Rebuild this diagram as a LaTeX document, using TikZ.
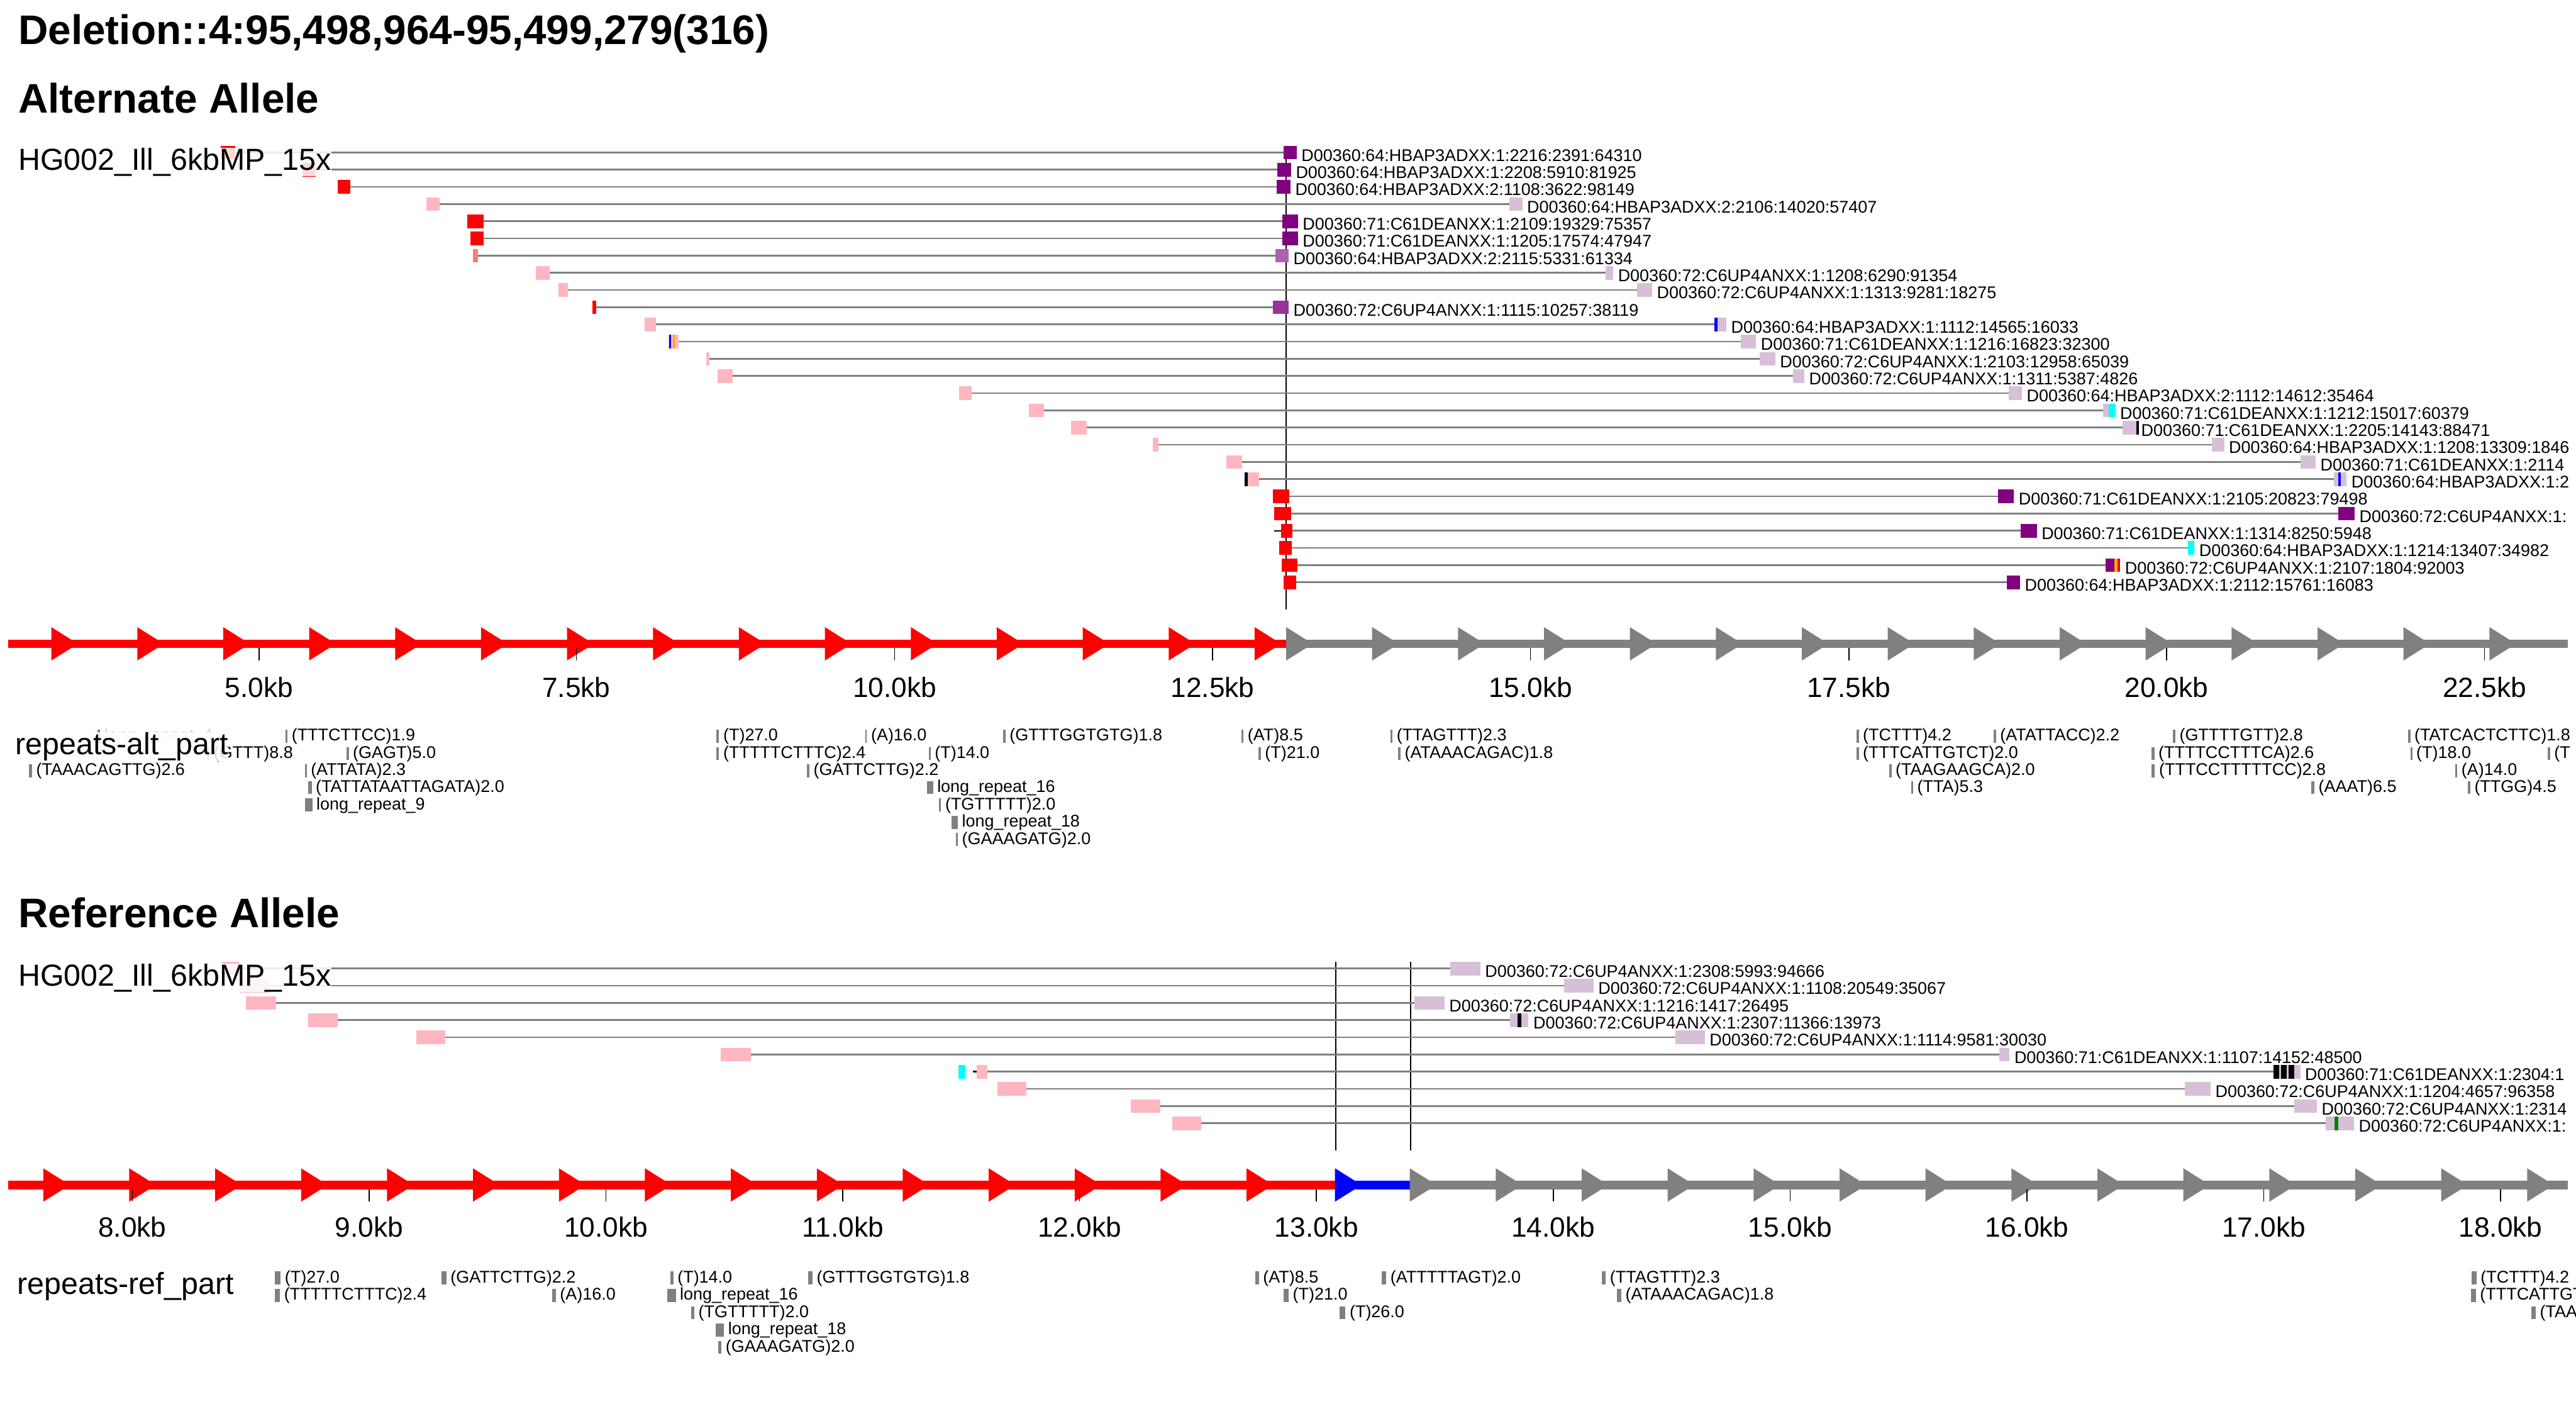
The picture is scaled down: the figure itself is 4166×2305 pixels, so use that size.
\documentclass[tikz,border=0pt]{standalone}
\usepackage{fontspec}
\setmainfont{Liberation Sans}
\definecolor{cRed}{HTML}{FF0000}
\definecolor{cPink}{HTML}{FFB6C1}
\definecolor{cPurple}{HTML}{800080}
\definecolor{cThistle}{HTML}{D8BFD8}
\definecolor{cMed}{HTML}{B060B0}
\definecolor{cMedB}{HTML}{993399}
\definecolor{cCoral}{HTML}{F08080}
\definecolor{cCyan}{HTML}{00FFFF}
\definecolor{cBlue}{HTML}{0000FF}
\definecolor{cOrange}{HTML}{FFA500}
\definecolor{cGreen}{HTML}{008000}
\definecolor{axgray}{HTML}{808080}
\definecolor{lbgray}{HTML}{707070}
\tikzset{
  readline/.style={draw=axgray, line width=0.75pt},
  readlab/.style={anchor=base west, inner sep=0pt, font=\fontsize{7.8}{9}\selectfont},
  replab/.style={anchor=base west, inner sep=0pt, font=\fontsize{7.8}{9}\selectfont},
  ticklab/.style={anchor=base, inner sep=0pt, font=\fontsize{12.8}{15}\selectfont},
  heading/.style={anchor=base west, inner sep=0pt, font=\bfseries\fontsize{19}{22}\selectfont},
  lanelab/.style={anchor=base west, inner sep=0pt, font=\fontsize{14}{17}\selectfont, fill=white, fill opacity=0.85, text opacity=1},
  tickline/.style={draw=black, line width=0.45pt},
  marker/.style={draw=black, line width=0.5pt},
}
% read row: y, l1, l2, lcol, r1, r2, rcol, label, name
\newcommand\rdrow[9]{%
  \draw[readline] (#2,#1) -- (#5,#1);
  \fill[#4] (#2,#1-11) rectangle (#3,#1+11);
  \fill[#7] (#5,#1-11) rectangle (#6,#1+11);
  \node[readlab] (#9) at (#6+7,#1+14) {#8};}
% stripe: x1, x2, y, colour
\newcommand\stripe[4]{\fill[#4] (#1,#3-11) rectangle (#2,#3+11);}
% repeat: barx, baseline, barwidth, text, name
\newcommand\rpt[5]{%
  \fill[axgray] (#1,#2-18) rectangle (#1+#3,#2+3);
  \node[replab] (#5) at (#1+#3+6,#2) {#4};}
% arrowhead: x, ycentre, colour
\newcommand\ahead[3]{\fill[#3] (#1,#2-27) -- (#1+43,#2) -- (#1,#2+27) -- cycle;}
\begin{document}
\begin{tikzpicture}[x=0.01cm, y=-0.01cm]
\useasboundingbox (0,0) rectangle (4166,2305);
\clip (0,0) rectangle (4166,2305);
\fill[white] (0,0) rectangle (4166,2305);

% ---------------- headings
\node[heading] (title) at (29,72) {Deletion::4:95,498,964-95,499,279(316)};
\node[heading] (altt) at (29,183) {Alternate Allele};

% ---------------- alternate allele reads
\draw[marker] (2080,237) -- (2080,986);
\rdrow{246.5}{357}{380}{cRed}{2076}{2097}{cPurple}{D00360:64:HBAP3ADXX:1:2216:2391:64310}{a0}
\rdrow{274.3}{489}{511}{cRed}{2066}{2088}{cPurple}{D00360:64:HBAP3ADXX:1:2208:5910:81925}{a1}
\rdrow{302.1}{546}{567}{cRed}{2065}{2087}{cPurple}{D00360:64:HBAP3ADXX:2:1108:3622:98149}{a2}
\rdrow{329.9}{690}{711}{cPink}{2441}{2462}{cThistle}{D00360:64:HBAP3ADXX:2:2106:14020:57407}{a3}
\rdrow{357.7}{756}{782}{cRed}{2074}{2099}{cPurple}{D00360:71:C61DEANXX:1:2109:19329:75357}{a4}
\rdrow{385.5}{761}{782}{cRed}{2074}{2099}{cPurple}{D00360:71:C61DEANXX:1:1205:17574:47947}{a5}
\rdrow{413.3}{765}{773}{cCoral}{2063}{2084}{cMed}{D00360:64:HBAP3ADXX:2:2115:5331:61334}{a6}
\rdrow{441.1}{867}{889}{cPink}{2597}{2609}{cThistle}{D00360:72:C6UP4ANXX:1:1208:6290:91354}{a7}
\rdrow{468.9}{903}{918}{cPink}{2647}{2672}{cThistle}{D00360:72:C6UP4ANXX:1:1313:9281:18275}{a8}
\rdrow{496.7}{958}{964}{cRed}{2059}{2084}{cMedB}{D00360:72:C6UP4ANXX:1:1115:10257:38119}{a9}
\rdrow{524.5}{1043}{1061}{cPink}{2773}{2792}{cThistle}{D00360:64:HBAP3ADXX:1:1112:14565:16033}{a10}
\stripe{2773}{2778}{524.5}{cBlue}
\rdrow{552.3}{1081}{1097}{cPink}{2815}{2840}{cThistle}{D00360:71:C61DEANXX:1:1216:16823:32300}{a11}
\stripe{1082}{1085}{552.3}{cBlue}
\stripe{1088}{1091}{552.3}{cOrange}
\rdrow{580.1}{1142}{1147}{cPink}{2846}{2871}{cThistle}{D00360:72:C6UP4ANXX:1:2103:12958:65039}{a12}
\rdrow{607.9}{1160}{1185}{cPink}{2900}{2918}{cThistle}{D00360:72:C6UP4ANXX:1:1311:5387:4826}{a13}
\rdrow{635.7}{1551}{1571}{cPink}{3249}{3270}{cThistle}{D00360:64:HBAP3ADXX:2:1112:14612:35464}{a14}
\rdrow{663.5}{1664}{1688}{cPink}{3401}{3421}{cThistle}{D00360:71:C61DEANXX:1:1212:15017:60379}{a15}
\stripe{3410}{3421}{663.5}{cCyan}
\rdrow{691.3}{1732}{1758}{cPink}{3433}{3455}{cThistle}{D00360:71:C61DEANXX:1:2205:14143:88471}{a16}
\stripe{3455}{3459}{691.3}{black}
\rdrow{719.1}{1864}{1873}{cPink}{3577}{3597}{cThistle}{D00360:64:HBAP3ADXX:1:1208:13309:1846}{a17}
\rdrow{746.9}{1983}{2009}{cPink}{3720}{3745}{cThistle}{D00360:71:C61DEANXX:1:2114}{a18}
\rdrow{774.7}{2013}{2036}{cPink}{3774}{3795}{cThistle}{D00360:64:HBAP3ADXX:1:2}{a19}
\stripe{2013}{2018}{774.7}{black}
\stripe{3781}{3786}{774.7}{cBlue}
\rdrow{802.5}{2059}{2085}{cRed}{3231}{3257}{cPurple}{D00360:71:C61DEANXX:1:2105:20823:79498}{a20}
\rdrow{830.3}{2061}{2088}{cRed}{3782}{3808}{cPurple}{D00360:72:C6UP4ANXX:1:}{a21}
\rdrow{858.1}{2072}{2090}{cRed}{3268}{3294}{cPurple}{D00360:71:C61DEANXX:1:1314:8250:5948}{a22}
\draw[black, line width=0.6pt] (2061,858.1) -- (2072,858.1);
\rdrow{885.9}{2069}{2089}{cRed}{3538}{3549}{cCyan}{D00360:64:HBAP3ADXX:1:1214:13407:34982}{a23}
\rdrow{913.7}{2073}{2098}{cRed}{3405}{3429}{cPurple}{D00360:72:C6UP4ANXX:1:2107:1804:92003}{a24}
\stripe{3419}{3424}{913.7}{cOrange}
\stripe{3424}{3429}{913.7}{cRed}
\rdrow{941.5}{2076}{2096}{cRed}{3246}{3267}{cPurple}{D00360:64:HBAP3ADXX:1:2112:15761:16083}{a25}
\node[lanelab] (altlane) at (29,275) {HG002\_Ill\_6kbMP\_15x};

% ---------------- alternate axis
\fill[cRed] (13,1034) rectangle (2080,1048);
\fill[axgray] (2080,1034) rectangle (4153,1048);
\foreach \k in {0,...,14}{\ahead{2029-139*\k}{1041}{cRed}}
\foreach \k in {0,...,14}{\ahead{2080+139*\k}{1041}{axgray}}
\foreach \x/\t in {419/5.0kb,932/7.5kb,1447/10.0kb,1961/12.5kb,2475/15.0kb,2990/17.5kb,3504/20.0kb,4018/22.5kb}{
  \draw[tickline] (\x,1048) -- (\x,1068);
  \node[ticklab] (at\x) at (\x,1127) {\t};}

% ---------------- alternate repeats
\rpt{158}{1198}{4}{\color{black!15}long\_repeat\_4}{ar0}
\rpt{462}{1198}{3}{(TTTCTTCC)1.9}{ar1}
\rpt{1158}{1198}{5}{(T)27.0}{ar2}
\rpt{1399}{1198}{3}{(A)16.0}{ar3}
\rpt{1622}{1198}{4}{(GTTTGGTGTG)1.8}{ar4}
\rpt{2008}{1198}{3}{(AT)8.5}{ar5}
\rpt{2249}{1198}{3}{(TTAGTTT)2.3}{ar6}
\rpt{3002}{1198}{4}{(TCTTT)4.2}{ar7}
\rpt{3224}{1198}{4}{(ATATTACC)2.2}{ar8}
\rpt{3514}{1198}{4}{(GTTTTGTT)2.8}{ar9}
\rpt{3894}{1198}{4}{(TATCACTCTTC)1.8}{ar10}
\rpt{335}{1226}{4}{(GTTT)8.8}{ar11}
\rpt{560}{1226}{4}{(GAGT)5.0}{ar12}
\rpt{1158}{1226}{5}{(TTTTTCTTTC)2.4}{ar13}
\rpt{1502}{1226}{3}{(T)14.0}{ar14}
\rpt{2035}{1226}{4}{(T)21.0}{ar15}
\rpt{2261}{1226}{4}{(ATAAACAGAC)1.8}{ar16}
\rpt{3002}{1226}{4}{(TTTCATTGTCT)2.0}{ar17}
\rpt{3479}{1226}{5}{(TTTTCCTTTCA)2.6}{ar18}
\rpt{3898}{1226}{3}{(T)18.0}{ar19}
\rpt{4120}{1226}{4}{(T}{ar20}
\rpt{47}{1254}{5}{(TAAACAGTTG)2.6}{ar21}
\rpt{493}{1254}{3}{(ATTATA)2.3}{ar22}
\rpt{1305}{1254}{4}{(GATTCTTG)2.2}{ar23}
\rpt{3055}{1254}{4}{(TAAGAAGCA)2.0}{ar24}
\rpt{3479}{1254}{6}{(TTTCCTTTTTCC)2.8}{ar25}
\rpt{3971}{1254}{3}{(A)14.0}{ar26}
\rpt{498}{1281}{6}{(TATTATAATTAGATA)2.0}{ar27}
\rpt{1499}{1281}{10}{long\_repeat\_16}{ar28}
\rpt{3091}{1281}{3}{(TTA)5.3}{ar29}
\rpt{3738}{1281}{5}{(AAAT)6.5}{ar30}
\rpt{3991}{1281}{4}{(TTGG)4.5}{ar31}
\rpt{493}{1309}{12}{long\_repeat\_9}{ar32}
\rpt{1519}{1309}{3}{(TGTTTTT)2.0}{ar33}
\rpt{1539}{1337}{10}{long\_repeat\_18}{ar34}
\rpt{1546}{1365}{3}{(GAAAGATG)2.0}{ar35}
\node[lanelab] (altrep) at (24,1220) {repeats-alt\_part};

% ---------------- reference allele
\node[heading] (reft) at (29,1500) {Reference Allele};
\draw[marker] (2160,1555) -- (2160,1860);
\draw[marker] (2281,1555) -- (2281,1860);
\rdrow{1566}{359}{388}{cPink}{2345}{2394}{cThistle}{D00360:72:C6UP4ANXX:1:2308:5993:94666}{b0}
\rdrow{1593.8}{388}{435}{cPink}{2529}{2577}{cThistle}{D00360:72:C6UP4ANXX:1:1108:20549:35067}{b1}
\rdrow{1621.6}{398}{446}{cPink}{2287}{2336}{cThistle}{D00360:72:C6UP4ANXX:1:1216:1417:26495}{b2}
\rdrow{1649.4}{498}{546}{cPink}{2442}{2472}{cThistle}{D00360:72:C6UP4ANXX:1:2307:11366:13973}{b3}
\stripe{2454}{2460}{1649.4}{black}
\rdrow{1677.2}{673}{720}{cPink}{2710}{2757}{cThistle}{D00360:72:C6UP4ANXX:1:1114:9581:30030}{b4}
\rdrow{1705}{1166}{1214}{cPink}{3233}{3250}{cThistle}{D00360:71:C61DEANXX:1:1107:14152:48500}{b5}
\rdrow{1732.8}{1580}{1597}{cPink}{3677}{3720}{cThistle}{D00360:71:C61DEANXX:1:2304:1}{b6}
\stripe{1550}{1561}{1732.8}{cCyan}
\draw[black, line width=0.8pt] (1573,1732.8) -- (1580,1732.8);
\stripe{3677}{3686}{1732.8}{black}
\stripe{3689}{3698}{1732.8}{black}
\stripe{3701}{3710}{1732.8}{black}
\rdrow{1760.6}{1613}{1660}{cPink}{3533}{3575}{cThistle}{D00360:72:C6UP4ANXX:1:1204:4657:96358}{b7}
\rdrow{1788.4}{1829}{1876}{cPink}{3710}{3747}{cThistle}{D00360:72:C6UP4ANXX:1:2314}{b8}
\rdrow{1816.2}{1896}{1943}{cPink}{3761}{3807}{cThistle}{D00360:72:C6UP4ANXX:1:}{b9}
\stripe{3775}{3781}{1816.2}{cGreen}
\node[lanelab] (reflane) at (29,1594) {HG002\_Ill\_6kbMP\_15x};

% ---------------- reference axis
\fill[cRed] (13,1909) rectangle (2159,1923);
\fill[cBlue] (2159,1909) rectangle (2280,1923);
\fill[axgray] (2280,1909) rectangle (4153,1923);
\foreach \k in {0,...,14}{\ahead{2016-139*\k}{1916}{cRed}}
\ahead{2159}{1916}{cBlue}
\foreach \k in {0,...,13}{\ahead{2280+139*\k}{1916}{axgray}}
\foreach \x/\t in {214/8.0kb,597/9.0kb,980/10.0kb,1363/11.0kb,1746/12.0kb,2129/13.0kb,2512/14.0kb,2895/15.0kb,3278/16.0kb,3661/17.0kb,4044/18.0kb}{
  \draw[tickline] (\x,1923) -- (\x,1943);
  \node[ticklab] (rt\x) at (\x,2000) {\t};}

% ---------------- reference repeats
\rpt{444}{2074}{10}{(T)27.0}{rr1}
\rpt{714}{2074}{8}{(GATTCTTG)2.2}{rr2}
\rpt{1084}{2074}{5}{(T)14.0}{rr3}
\rpt{1307}{2074}{7}{(GTTTGGTGTG)1.8}{rr4}
\rpt{2030}{2074}{6}{(AT)8.5}{rr5}
\rpt{2235}{2074}{7}{(ATTTTTAGT)2.0}{rr6}
\rpt{2591}{2074}{6}{(TTAGTTT)2.3}{rr7}
\rpt{3997}{2074}{8}{(TCTTT)4.2}{rr8}
\rpt{444}{2102}{9}{(TTTTTCTTTC)2.4}{rr9}
\rpt{893}{2102}{6}{(A)16.0}{rr10}
\rpt{1079}{2102}{14}{long\_repeat\_16}{rr11}
\rpt{2076}{2102}{8}{(T)21.0}{rr12}
\rpt{2615}{2102}{7}{(ATAAACAGAC)1.8}{rr13}
\rpt{3996}{2102}{8}{(TTTCATTGTCT)2.0}{rr14}
\rpt{1118}{2130}{5}{(TGTTTTT)2.0}{rr15}
\rpt{2166}{2130}{10}{(T)26.0}{rr16}
\rpt{4094}{2130}{7}{(TAAGAAGCA)2.0}{rr17}
\rpt{1157}{2158}{14}{long\_repeat\_18}{rr18}
\rpt{1161}{2186}{6}{(GAAAGATG)2.0}{rr19}
\node[lanelab] (refrep) at (27,2093) {repeats-ref\_part};
\end{tikzpicture}
\end{document}
